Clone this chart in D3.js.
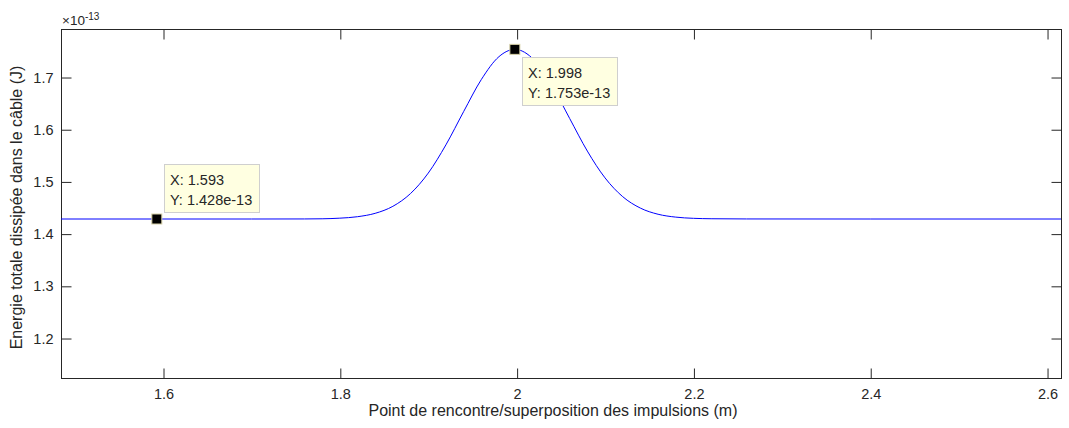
<!DOCTYPE html>
<html>
<head>
<meta charset="utf-8">
<script src="https://cdn.jsdelivr.net/npm/d3@7"></script>
<style>
  html, body { margin: 0; padding: 0; background: #ffffff; }
  svg { display: block; }
  text { font-family: "Liberation Sans", Arial, Helvetica, sans-serif; fill: #262626; }
</style>
</head>
<body>
<svg id="chart" width="1069" height="428"></svg>
<script>
// ---- data (energy values in units of 1e-13 J) ----
const positions = [1.4846, 1.60, 1.70, 1.76, 1.78, 1.80, 1.82, 1.84, 1.86, 1.88, 1.90, 1.92, 1.94, 1.96, 1.98, 1.998,
                   2.02, 2.04, 2.06, 2.08, 2.10, 2.12, 2.14, 2.16, 2.18, 2.20, 2.22, 2.26, 2.40, 2.6158];
const energies  = [1.428, 1.428, 1.428, 1.4281, 1.4284, 1.4296, 1.4324, 1.4389, 1.4523, 1.4768, 1.5159, 1.570, 1.6336, 1.695, 1.739, 1.753,
                   1.7323, 1.6836, 1.6206, 1.5581, 1.5068, 1.4708, 1.4489, 1.4371, 1.4316, 1.4293, 1.4285, 1.4281, 1.428, 1.428];
const xTicks = [1.6, 1.8, 2.0, 2.2, 2.4, 2.6];
const xTickLabels = ["1.6", "1.8", "2", "2.2", "2.4", "2.6"];
const yTicks = [1.2, 1.3, 1.4, 1.5, 1.6, 1.7];
const yTickLabels = ["1.2", "1.3", "1.4", "1.5", "1.6", "1.7"];
const tipX = [1.593, 1.998];
const tipY = [1.428, 1.753];
const tipLabelsX = ["X: 1.593", "X: 1.998"];
const tipLabelsY = ["Y: 1.428e-13", "Y: 1.753e-13"];
const xLabel = "Point de rencontre/superposition des impulsions (m)";
const yLabel = "Energie totale dissipée dans le câble (J)";

// ---- layout ----
const L = 61, R = 1061, T = 29, B = 378;
const svg = d3.select("#chart");
const x = d3.scaleLinear().domain([1.4846, 2.6158]).range([L, R]);
const y = d3.scaleLinear().domain([1.1234, 1.792]).range([B, T]);
const axisColor = "#262626";
const tickLen = 10;

// box
svg.append("rect")
  .attr("x", L + 0.5).attr("y", T + 0.5)
  .attr("width", R - L).attr("height", B - T)
  .attr("fill", "none").attr("stroke", axisColor).attr("stroke-width", 1);

// axes (inward ticks)
const fmtX = (d, i) => xTickLabels[i];
const fmtY = (d, i) => yTickLabels[i];
const gx = svg.append("g").attr("transform", `translate(0.5,${B + 0.5})`)
  .call(d3.axisBottom(x).tickValues(xTicks).tickFormat(fmtX).tickSizeInner(-tickLen).tickSizeOuter(0).tickPadding(18));
const gxTop = svg.append("g").attr("transform", `translate(0.5,${T + 0.5})`)
  .call(d3.axisTop(x).tickValues(xTicks).tickFormat("").tickSizeInner(-tickLen).tickSizeOuter(0));
const gy = svg.append("g").attr("transform", `translate(${L + 0.5},0.5)`)
  .call(d3.axisLeft(y).tickValues(yTicks).tickFormat(fmtY).tickSizeInner(-tickLen).tickSizeOuter(0).tickPadding(8));
const gyR = svg.append("g").attr("transform", `translate(${R + 0.5},0.5)`)
  .call(d3.axisRight(y).tickValues(yTicks).tickFormat("").tickSizeInner(-tickLen).tickSizeOuter(0));
[gx, gxTop, gy, gyR].forEach(g => {
  g.select(".domain").remove();
  g.selectAll(".tick line").attr("stroke", axisColor);
  g.selectAll(".tick text").attr("fill", axisColor)
    .style("font-family", '"Liberation Sans", Arial, sans-serif').style("font-size", "14.5px");
});
gx.selectAll(".tick text").attr("dy", "0.2em");

// exponent label
const ex = svg.append("text").attr("x", L + 1).attr("y", 25).style("font-size", "13.5px");
ex.append("tspan").text("\u00d710");
ex.append("tspan").attr("dy", -5).style("font-size", "10px").text("-13");

// axis labels
svg.append("text").attr("x", (L + R) / 2 - 8).attr("y", 416).attr("text-anchor", "middle")
  .style("font-size", "16px").text(xLabel);
svg.append("text").attr("transform", `translate(22,${(T + B) / 2 + 4}) rotate(-90)`)
  .attr("text-anchor", "middle").style("font-size", "16px").text(yLabel);

// curve
const line = d3.line().x((d, i) => x(positions[i])).y((d, i) => y(energies[i])).curve(d3.curveMonotoneX);
svg.append("path").datum(energies).attr("d", line)
  .attr("fill", "none").attr("stroke", "#0000ff").attr("stroke-width", 1);

// data tips
const tipW = 95, tipH = 48;
tipX.forEach((vx, i) => {
  const mx = x(vx), my = y(tipY[i]);
  const bx = mx + 7;
  const by = i === 0 ? my - 55 : my + 8;
  svg.append("rect").attr("x", Math.round(bx) + 0.5).attr("y", Math.round(by) + 0.5)
    .attr("width", tipW).attr("height", tipH)
    .attr("fill", "#ffffe1").attr("stroke", "#cfcfcf").attr("stroke-width", 1);
  svg.append("text").attr("x", Math.round(bx) + 6).attr("y", Math.round(by) + 21)
    .style("font-size", "14.5px").attr("fill", "#1a1a1a").text(tipLabelsX[i]);
  svg.append("text").attr("x", Math.round(bx) + 6).attr("y", Math.round(by) + 41)
    .style("font-size", "14.5px").attr("fill", "#1a1a1a").text(tipLabelsY[i]);
  svg.append("rect").attr("x", mx - 5).attr("y", my - 5).attr("width", 10).attr("height", 10)
    .attr("fill", "#000000").attr("stroke", "#d8d2a8").attr("stroke-width", 1);
});
</script>
</body>
</html>
